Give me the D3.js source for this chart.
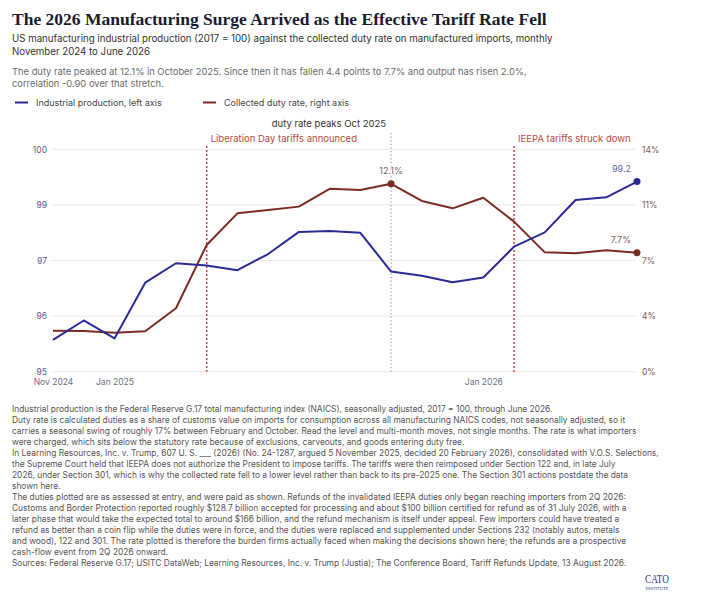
<!DOCTYPE html>
<html>
<head>
<meta charset="utf-8">
<script src="https://cdn.jsdelivr.net/npm/d3@7"></script>
<style>
  body { margin: 0; background: #fff; }
  text { font-family: Inter, Roboto, sans-serif; }
</style>
</head>
<body>
<script>
// monthly observations, Nov 2024 .. Jun 2026
var months = ["2024-11","2024-12","2025-01","2025-02","2025-03","2025-04","2025-05","2025-06",
  "2025-07","2025-08","2025-09","2025-10","2025-11","2025-12","2026-01","2026-02",
  "2026-03","2026-04","2026-05","2026-06"];

// manufacturing IP index, 2017 = 100 (left axis)
var production = [95.77, 96.19, 95.80, 97.01, 97.43, 97.38, 97.28, 97.63, 98.11, 98.13,
  98.09, 97.25, 97.16, 97.02, 97.12, 97.79, 98.10, 98.80, 98.86, 99.20];

// collected duty rate, % (right axis)
var dutyRate = [2.72, 2.70, 2.59, 2.68, 4.15, 8.19, 10.21, 10.42, 10.64, 11.78,
  11.70, 12.10, 11.00, 10.53, 11.21, 9.68, 7.72, 7.66, 7.85, 7.70];

var leftDomain = [95.08, 99.9];
var rightDomain = [0.1, 14.3];
var leftTickLabels = ["95", "96", "97", "99", "100"];
var rightTickLabels = ["0%", "4%", "7%", "11%", "14%"];
var xTickMonths = ["2024-11", "2025-01", "2026-01"];
var xTickLabels = ["Nov 2024", "Jan 2025", "Jan 2026"];

var events = [
  {month: "2025-04", label: "Liberation Day tariffs announced", kind: "policy"},
  {month: "2025-10", label: "duty rate peaks Oct 2025", kind: "peak"},
  {month: "2026-02", label: "IEEPA tariffs struck down", kind: "policy"}
];

var title = "The 2026 Manufacturing Surge Arrived as the Effective Tariff Rate Fell";
var subtitle = ["US manufacturing industrial production (2017 = 100) against the collected duty rate on manufactured imports, monthly",
  "November 2024 to June 2026"];
var dek = ["The duty rate peaked at 12.1% in October 2025. Since then it has fallen 4.4 points to 7.7% and output has risen 2.0%,",
  "correlation -0.90 over that stretch."];
var notes = [
  "Industrial production is the Federal Reserve G.17 total manufacturing index (NAICS), seasonally adjusted, 2017 = 100, through June 2026.",
  "Duty rate is calculated duties as a share of customs value on imports for consumption across all manufacturing NAICS codes, not seasonally adjusted, so it",
  "carries a seasonal swing of roughly 17% between February and October. Read the level and multi-month moves, not single months. The rate is what importers",
  "were charged, which sits below the statutory rate because of exclusions, carveouts, and goods entering duty free.",
  "In Learning Resources, Inc. v. Trump, 607 U. S. ___ (2026) (No. 24-1287, argued 5 November 2025, decided 20 February 2026), consolidated with V.O.S. Selections,",
  "the Supreme Court held that IEEPA does not authorize the President to impose tariffs. The tariffs were then reimposed under Section 122 and, in late July",
  "2026, under Section 301, which is why the collected rate fell to a lower level rather than back to its pre-2025 one. The Section 301 actions postdate the data",
  "shown here.",
  "The duties plotted are as assessed at entry, and were paid as shown. Refunds of the invalidated IEEPA duties only began reaching importers from 2Q 2026:",
  "Customs and Border Protection reported roughly $128.7 billion accepted for processing and about $100 billion certified for refund as of 31 July 2026, with a",
  "later phase that would take the expected total to around $166 billion, and the refund mechanism is itself under appeal. Few importers could have treated a",
  "refund as better than a coin flip while the duties were in force, and the duties were replaced and supplemented under Sections 232 (notably autos, metals",
  "and wood), 122 and 301. The rate plotted is therefore the burden firms actually faced when making the decisions shown here; the refunds are a prospective",
  "cash-flow event from 2Q 2026 onward.",
  "Sources: Federal Reserve G.17; USITC DataWeb; Learning Resources, Inc. v. Trump (Justia); The Conference Board, Tariff Refunds Update, 13 August 2026."
];

var w = 705, h = 610;
var blue = "#2b2a95", red = "#7a2b24", eventRed = "#c4463a";
var plot = {left: 53, right: 637, top: 149.3, bottom: 371.7};

var svg = d3.select("body").append("svg")
  .attr("width", w).attr("height", h);
svg.append("rect").attr("width", w).attr("height", h).attr("fill", "#fff");

// header
svg.append("text").attr("x", 12).attr("y", 25)
  .style("font-family", "'Liberation Serif', serif").style("font-weight", "bold")
  .style("font-size", "17.5px").attr("fill", "#1a1a2e").text(title);

svg.selectAll(".sub").data(subtitle).enter().append("text")
  .attr("x", 12).attr("y", function(d, i) { return 42 + i * 13; })
  .style("font-size", "9.7px").attr("fill", "#333").text(function(d) { return d; });

svg.selectAll(".dek").data(dek).enter().append("text")
  .attr("x", 12).attr("y", function(d, i) { return 74.5 + i * 12.5; })
  .style("font-size", "9.35px").attr("fill", "#6b6b6b").text(function(d) { return d; });

// legend
var legend = [{label: "Industrial production, left axis", color: blue, x: 15},
              {label: "Collected duty rate, right axis", color: red, x: 203}];
var lg = svg.selectAll(".lg").data(legend).enter().append("g")
  .attr("transform", function(d) { return "translate(" + d.x + ",102.5)"; });
lg.append("line").attr("x2", 13).attr("stroke", function(d) { return d.color; }).attr("stroke-width", 2);
lg.append("text").attr("x", 21).attr("y", 3.3).style("font-size", "9px").attr("fill", "#444")
  .text(function(d) { return d.label; });

// scales
var x = d3.scalePoint().domain(months).range([plot.left, plot.right]);
var yL = d3.scaleLinear().domain(leftDomain).range([plot.bottom, plot.top]);
var yR = d3.scaleLinear().domain(rightDomain).range([plot.bottom, plot.top]);
var leftTicks = d3.range(5).map(function(i) { return leftDomain[0] + (leftDomain[1] - leftDomain[0]) * i / 4; });
var rightTicks = d3.range(5).map(function(i) { return rightDomain[0] + (rightDomain[1] - rightDomain[0]) * i / 4; });

// gridlines
svg.append("g").selectAll("line").data(leftTicks).enter().append("line")
  .attr("x1", plot.left - 1.5).attr("x2", plot.right - 1)
  .attr("y1", function(d) { return yL(d); }).attr("y2", function(d) { return yL(d); })
  .attr("stroke", "#f1e6e3").attr("stroke-width", 1);

// axes
var axL = svg.append("g").attr("transform", "translate(" + (plot.left - 6) + ",0)")
  .call(d3.axisLeft(yL).tickValues(leftTicks).tickSize(0).tickPadding(0)
    .tickFormat(function(d, i) { return leftTickLabels[i]; }));
var axR = svg.append("g").attr("transform", "translate(" + (plot.right + 5) + ",0)")
  .call(d3.axisRight(yR).tickValues(rightTicks).tickSize(0).tickPadding(0)
    .tickFormat(function(d, i) { return rightTickLabels[i]; }));
var axX = svg.append("g").attr("transform", "translate(0," + (plot.bottom + 4) + ")")
  .call(d3.axisBottom(x).tickValues(xTickMonths).tickSize(0).tickPadding(3)
    .tickFormat(function(d, i) { return xTickLabels[i]; }));
[axL, axR, axX].forEach(function(a) {
  a.select(".domain").remove();
  a.selectAll("text").style("font-family", "Inter, Roboto, sans-serif").style("font-size", "8.5px");
});
axL.selectAll("text").attr("fill", "#5c5c92");
axR.selectAll("text").attr("fill", "#7d5a55");
axX.selectAll("text").attr("fill", "#6b6e80");

// event markers
var ev = svg.selectAll(".ev").data(events).enter().append("g");
ev.append("line")
  .attr("x1", function(d) { return x(d.month); }).attr("x2", function(d) { return x(d.month); })
  .attr("y1", function(d) { return d.kind === "peak" ? 133 : 146; }).attr("y2", plot.bottom)
  .attr("stroke", function(d) { return d.kind === "peak" ? "#a0a0a0" : eventRed; })
  .attr("stroke-width", function(d) { return d.kind === "peak" ? 1.2 : 1.5; })
  .attr("stroke-dasharray", function(d) { return d.kind === "peak" ? "1.2,2.4" : "2,2"; });
ev.append("text")
  .attr("x", function(d) { return d.kind === "peak" ? x(d.month) - 5 : x(d.month) + 4; })
  .attr("y", function(d) { return d.kind === "peak" ? 127 : 141.5; })
  .attr("text-anchor", function(d) { return d.kind === "peak" ? "end" : "start"; })
  .style("font-size", "9.5px")
  .attr("fill", function(d) { return d.kind === "peak" ? "#333" : "#b8493c"; })
  .text(function(d) { return d.label; });

// lines
var lineL = d3.line().x(function(d, i) { return x(months[i]); }).y(function(d) { return yL(d); });
var lineR = d3.line().x(function(d, i) { return x(months[i]); }).y(function(d) { return yR(d); });
svg.append("path").datum(dutyRate).attr("d", lineR)
  .attr("fill", "none").attr("stroke", red).attr("stroke-width", 2).attr("stroke-linejoin", "round");
svg.append("path").datum(production).attr("d", lineL)
  .attr("fill", "none").attr("stroke", blue).attr("stroke-width", 2).attr("stroke-linejoin", "round");

// highlighted points
var peakIdx = dutyRate.indexOf(d3.max(dutyRate)), last = months.length - 1;
var marks = [
  {i: peakIdx, v: dutyRate[peakIdx], y: yR, color: red, label: d3.format(".1f")(dutyRate[peakIdx]) + "%", anchor: "middle", dx: 0, lc: "#7a5d58"},
  {i: last, v: production[last], y: yL, color: blue, label: d3.format(".1f")(production[last]), anchor: "end", dx: -6, lc: "#6565a8"},
  {i: last, v: dutyRate[last], y: yR, color: red, label: d3.format(".1f")(dutyRate[last]) + "%", anchor: "end", dx: -6, lc: "#7a5d58"}
];
svg.selectAll(".mk").data(marks).enter().append("circle")
  .attr("cx", function(d) { return x(months[d.i]); }).attr("cy", function(d) { return d.y(d.v); })
  .attr("r", 3.5).attr("fill", function(d) { return d.color; });
svg.selectAll(".mkl").data(marks).enter().append("text")
  .attr("x", function(d) { return x(months[d.i]) + d.dx; }).attr("y", function(d) { return d.y(d.v) - 9.5; })
  .attr("text-anchor", function(d) { return d.anchor; })
  .style("font-size", "9px").attr("fill", function(d) { return d.lc; })
  .attr("stroke", "#fff").attr("stroke-width", 3).attr("paint-order", "stroke")
  .text(function(d) { return d.label; });

// notes
svg.selectAll(".note").data(notes).enter().append("text")
  .attr("x", 12).attr("y", function(d, i) { return 412 + i * 11; })
  .style("font-size", "8.4px").attr("fill", "#555").text(function(d) { return d; });

// logo
var logo = svg.append("g").attr("transform", "translate(657,0)");
logo.append("text").attr("y", 583).attr("text-anchor", "middle")
  .style("font-family", "'Liberation Serif', serif").style("font-size", "13px")
  .attr("fill", "#2c3783").attr("textLength", 24).attr("lengthAdjust", "spacingAndGlyphs").text("CATO");
logo.append("text").attr("y", 590).attr("text-anchor", "middle")
  .style("font-family", "'Liberation Serif', serif").style("font-size", "4.5px")
  .attr("fill", "#2c3783").text("INSTITUTE");
</script>
</body>
</html>
